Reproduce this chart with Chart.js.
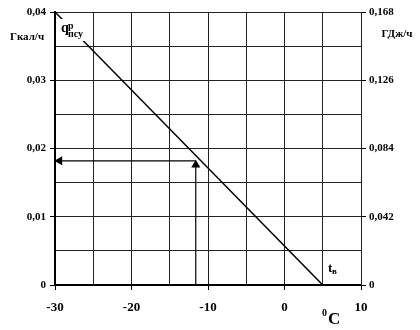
<!DOCTYPE html>
<html>
<head>
<meta charset="utf-8">
<script src="https://cdn.jsdelivr.net/npm/chart.js@4"></script>
<style>
  html, body { margin: 0; padding: 0; background: #fff; }
  #wrap { width: 420px; height: 330px; }
</style>
</head>
<body>
<div id="wrap"><canvas id="grafico" width="420" height="330"></canvas></div>
<script>
// heating line: outdoor temperature -> heat load
const tempC = [-30, 5];
const heatGcal = [0.04, 0];

// reading arrows (example at about -11.6 C)
const readUpT = [-11.6, -11.6];
const readUpQ = [0, 0.0176];
const readLeftT = [-11.6, -29.4];
const readLeftQ = [0.0182, 0.0182];

// tick labels
const xLabels = [-30, -20, -10, 0, 10];
const leftLabels = ['0', '0,01', '0,02', '0,03', '0,04'];
const rightLabels = ['0', '0,042', '0,084', '0,126', '0,168'];

function pts(xs, ys) {
  var out = [];
  for (var i = 0; i < xs.length; i++) out.push({x: xs[i], y: ys[i]});
  return out;
}

const fontTick = {family: 'Liberation Serif', weight: 'bold', size: 11};

const scritte = {
  id: 'scritte',
  afterDatasetsDraw(chart) {
    const c = chart.ctx;
    c.save();
    c.fillStyle = '#000';
    c.textBaseline = 'middle';
    c.textAlign = 'center';
    c.font = 'bold 11px "Liberation Serif"';
    c.fillText('Гкал/ч', 27, 37);
    c.fillText('ГДж/ч', 397, 34);

    // q label over the line
    c.fillStyle = '#fff';
    c.fillRect(61, 19, 25, 22);
    c.fillStyle = '#000';
    c.textAlign = 'left';
    c.textBaseline = 'alphabetic';
    c.font = 'bold 14px "Liberation Serif"';
    c.fillText('q', 61, 32);
    c.font = 'bold 10px "Liberation Serif"';
    c.fillText('р', 68, 29);
    c.fillText('псу', 68, 37);

    // t_в
    c.font = 'bold 13px "Liberation Serif"';
    c.fillText('t', 328, 272);
    c.font = 'bold 9px "Liberation Serif"';
    c.fillText('в', 332, 274);

    // degrees C
    c.font = 'bold 10px "Liberation Serif"';
    c.fillText('0', 322, 316);
    c.font = 'bold 17px "Liberation Serif"';
    c.fillText('C', 328, 324);
    c.restore();
  }
};

const config = {
  type: 'scatter',
  data: {
    datasets: [
      {
        data: pts(tempC, heatGcal),
        showLine: true,
        borderColor: '#000',
        borderWidth: 1.5,
        pointRadius: 0
      },
      {
        data: pts(readUpT, readUpQ),
        showLine: true,
        borderColor: '#000',
        backgroundColor: '#000',
        borderWidth: 1.2,
        pointStyle: 'triangle',
        pointRadius: [0, 4],
        rotation: 0
      },
      {
        data: pts(readLeftT, readLeftQ),
        showLine: true,
        borderColor: '#000',
        backgroundColor: '#000',
        borderWidth: 1.2,
        pointStyle: 'triangle',
        pointRadius: [0, 4],
        rotation: 270
      }
    ]
  },
  options: {
    responsive: false,
    animation: false,
    events: [],
    layout: {padding: {top: 12, left: 0, right: 0, bottom: 0}},
    plugins: {legend: {display: false}, tooltip: {enabled: false}},
    scales: {
      x: {
        type: 'linear',
        min: -30, max: 10,
        afterFit(s) { s.height = 45; },
        afterBuildTicks(s) {
          var t = [];
          for (var v = -30; v <= 10; v += 5) t.push({value: v});
          s.ticks = t;
        },
        border: {color: '#000', width: 2},
        grid: {
          color: '#222', lineWidth: 1, tickLength: 5,
          tickColor: function(ctx) { return (ctx.tick && ctx.tick.value % 10 === 0) ? '#000' : 'rgba(0,0,0,0)'; }
        },
        ticks: {
          color: '#000',
          font: {family: 'Liberation Serif', weight: 'bold', size: 13},
          padding: 10,
          maxRotation: 0,
          autoSkip: false,
          callback: function(v) { return xLabels.indexOf(v) >= 0 ? String(v) : ''; }
        }
      },
      y: {
        position: 'left',
        min: 0, max: 0.04,
        afterFit(s) { s.width = 55; },
        afterBuildTicks(s) {
          var t = [];
          for (var i = 0; i <= 8; i++) t.push({value: i * 0.005});
          s.ticks = t;
        },
        border: {color: '#000', width: 2},
        grid: {
          color: '#222', lineWidth: 1, tickLength: 5,
          tickColor: function(ctx) { return (ctx.tick && Math.round(ctx.tick.value * 1000) % 10 === 0) ? '#000' : 'rgba(0,0,0,0)'; }
        },
        ticks: {
          color: '#000',
          font: fontTick,
          padding: 4,
          autoSkip: false,
          callback: function(v) {
            var k = Math.round(v * 1000);
            return k % 10 === 0 ? leftLabels[k / 10] : '';
          }
        }
      },
      y2: {
        position: 'right',
        min: 0, max: 0.168,
        afterFit(s) { s.width = 59; },
        afterBuildTicks(s) {
          var t = [];
          for (var i = 0; i <= 4; i++) t.push({value: i * 0.042});
          s.ticks = t;
        },
        border: {color: '#222', width: 1},
        grid: {drawOnChartArea: false, tickLength: 5, tickColor: '#000'},
        ticks: {
          color: '#000',
          font: fontTick,
          padding: 3,
          autoSkip: false,
          callback: function(v, i) { return rightLabels[i]; }
        }
      }
    }
  },
  plugins: [scritte]
};

var oggettoGrafico = new Chart(document.getElementById('grafico'), config);
</script>
</body>
</html>
